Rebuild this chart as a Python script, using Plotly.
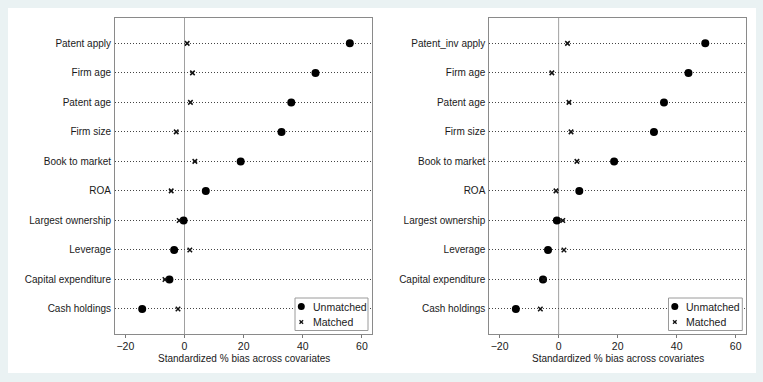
import plotly.graph_objects as go

# ---- data ----
labels_left = ["Patent apply", "Firm age", "Patent age", "Firm size", "Book to market",
               "ROA", "Largest ownership", "Leverage", "Capital expenditure", "Cash holdings"]
labels_right = ["Patent_inv apply", "Firm age", "Patent age", "Firm size", "Book to market",
                "ROA", "Largest ownership", "Leverage", "Capital expenditure", "Cash holdings"]
unmatched_left = [55.9, 44.3, 36.1, 32.8, 19.0, 7.2, -0.3, -3.5, -5.1, -14.3]
matched_left = [0.9, 2.7, 2.0, -2.8, 3.5, -4.5, -1.8, 1.8, -6.6, -2.2]
unmatched_right = [49.7, 44.0, 35.7, 32.3, 18.8, 7.0, -0.6, -3.6, -5.3, -14.5]
matched_right = [3.0, -2.3, 3.5, 4.2, 6.2, -0.9, 1.4, 1.8, -5.0, -6.2]
x_ticks = [-20, 0, 20, 40, 60]
legend_names = ["Unmatched", "Matched"]
x_title = "Standardized % bias across covariates"

W, H = 763, 382
FONT = "Liberation Sans, Arial, sans-serif"
BG = "#EAF2F3"
TXT = "#1a1a1a"

def px(x):
    return x / W

def py(y):
    return 1 - y / H

fig = go.Figure()

panels = [
    dict(labels=labels_left, un=unmatched_left, ma=matched_left, xa="x", ya="y",
         xdom=[px(115), px(372)], leg=(295, 368)),
    dict(labels=labels_right, un=unmatched_right, ma=matched_right, xa="x2", ya="y2",
         xdom=[px(489.3), px(745.7)], leg=(668.5, 742.3)),
]

ydom = [py(334), py(18)]
shapes = [dict(type="rect", xref="paper", yref="paper", x0=px(8), x1=px(756), y0=py(373), y1=py(8),
               fillcolor="white", line=dict(width=0), layer="below")]
annotations = []

for i, p in enumerate(panels):
    fig.add_trace(go.Scatter(x=p["un"], y=p["labels"], mode="markers", name=legend_names[0],
                             marker=dict(symbol="circle", size=8, color="black"),
                             xaxis=p["xa"], yaxis=p["ya"], showlegend=False))
    fig.add_trace(go.Scatter(x=p["ma"], y=p["labels"], mode="markers", name=legend_names[1],
                             marker=dict(symbol="x-thin", size=4.5, color="black",
                                         line=dict(width=1.5, color="#111")),
                             xaxis=p["xa"], yaxis=p["ya"], showlegend=False))
    axsuf = "" if i == 0 else "2"
    fig.update_layout(**{
        "xaxis" + axsuf: dict(domain=p["xdom"], range=[-23.5, 63.4], tickvals=x_ticks,
                              ticks="outside", ticklen=3, tickcolor="#777", showgrid=False,
                              zeroline=False, showline=True, linecolor="#8a8a8a", mirror=True,
                              tickfont=dict(family=FONT, size=10.5, color=TXT),
                              ticklabelstandoff=-1,
                              anchor="y" + axsuf, fixedrange=True),
        "yaxis" + axsuf: dict(domain=ydom, type="category", categoryorder="array",
                              categoryarray=p["labels"], range=[9.85, -0.86],
                              showgrid=True, gridcolor="#444", griddash="1px,2px", gridwidth=1,
                              ticks="", ticklabelstandoff=1, zeroline=False,
                              showline=True, linecolor="#8a8a8a", mirror=True,
                              tickfont=dict(family=FONT, size=10, color=TXT),
                              anchor="x" + axsuf, fixedrange=True),
    })
    # x-axis title
    annotations.append(dict(text=x_title, xref="paper", yref="paper",
                            x=(p["xdom"][0] + p["xdom"][1]) / 2, y=py(358.5),
                            xanchor="center", yanchor="middle", showarrow=False,
                            font=dict(family=FONT, size=10, color=TXT)))
    # zero reference line
    shapes.append(dict(type="line", xref=p["xa"], yref=p["ya"] + " domain", x0=0, x1=0, y0=0, y1=1,
                       line=dict(color="#a0a0a0", width=1), layer="below"))
    # legend box
    lx0, lx1 = p["leg"]
    ly0, ly1 = 298, 330.5
    shapes.append(dict(type="rect", xref="paper", yref="paper", x0=px(lx0), x1=px(lx1),
                       y0=py(ly1), y1=py(ly0), fillcolor="white",
                       line=dict(color="#9a9a9a", width=1)))
    cx, r = lx0 + 6.3, 3.5
    cy1, cy2 = 306.5, 322
    shapes.append(dict(type="circle", xref="paper", yref="paper", x0=px(cx - r), x1=px(cx + r),
                       y0=py(cy1 + r), y1=py(cy1 - r), fillcolor="black", line=dict(width=0)))
    d = 1.8
    shapes.append(dict(type="line", xref="paper", yref="paper", x0=px(cx - d), x1=px(cx + d),
                       y0=py(cy2 + d), y1=py(cy2 - d), line=dict(color="#111", width=1.3)))
    shapes.append(dict(type="line", xref="paper", yref="paper", x0=px(cx - d), x1=px(cx + d),
                       y0=py(cy2 - d), y1=py(cy2 + d), line=dict(color="#111", width=1.3)))
    for name, cy in zip(legend_names, [cy1, cy2]):
        annotations.append(dict(text=name, xref="paper", yref="paper", x=px(lx0 + 15.5), y=py(cy),
                                xanchor="left", yanchor="middle", showarrow=False,
                                font=dict(family=FONT, size=10.5, color=TXT)))

fig.update_layout(width=W, height=H, margin=dict(l=0, r=0, t=0, b=0),
                  paper_bgcolor=BG, plot_bgcolor="white", showlegend=False,
                  shapes=shapes, annotations=annotations)

fig.write_html("out.html", config={"displayModeBar": False})
